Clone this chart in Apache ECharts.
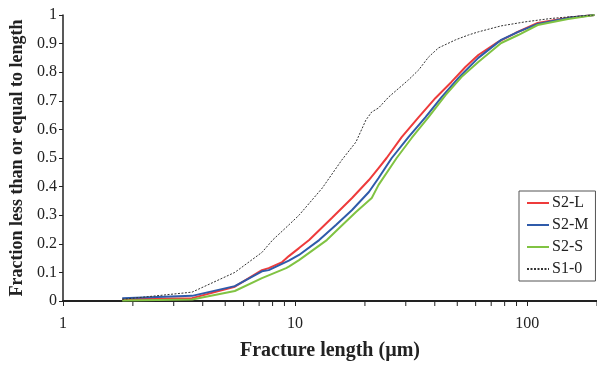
<!DOCTYPE html>
<html>
<head>
<meta charset="utf-8">
<script src="https://cdn.jsdelivr.net/npm/echarts@6/dist/echarts.min.js"></script>
<style>
  html, body {margin: 0; padding: 0; background: #fff;}
  #chart {width: 597px; height: 365px;}
</style>
</head>
<body>
<div id="chart"></div>
<script>
// cumulative fraction vs fracture length (µm)
const s2L = [[1.8, 0.006], [3.6, 0.01], [5.5, 0.05], [7.2, 0.108], [7.7, 0.115], [8.8, 0.136], [9.4, 0.157],
  [10.4, 0.185], [11.5, 0.213], [14.4, 0.29], [17.6, 0.36], [20.8, 0.423], [22.9, 0.465], [24.8, 0.5],
  [28.8, 0.573], [34.1, 0.643], [40.3, 0.71], [47.2, 0.766], [54.2, 0.818], [61.6, 0.86], [75, 0.906],
  [89, 0.937], [111, 0.972], [150, 0.99], [195, 1.0]];
const s2M = [[1.8, 0.01], [3.6, 0.018], [5.5, 0.052], [7.2, 0.104], [7.7, 0.108], [9.4, 0.141], [10.4, 0.161],
  [12.7, 0.213], [15.0, 0.266], [17.6, 0.318], [20.8, 0.381], [22.9, 0.43], [26.1, 0.5], [30.8, 0.573],
  [36.5, 0.643], [42.8, 0.713], [50.6, 0.78], [61.6, 0.85], [77.3, 0.913], [91.5, 0.941], [111, 0.969],
  [150, 0.99], [195, 1.0]];
const s2S = [[1.8, 0.002], [3.6, 0.005], [5.5, 0.035], [7.2, 0.08], [9.15, 0.115], [9.4, 0.12], [10.4, 0.143],
  [13.7, 0.213], [15.5, 0.255], [18.3, 0.311], [21.4, 0.36], [22.9, 0.406], [27.4, 0.5], [31.8, 0.57],
  [37.6, 0.643], [44.5, 0.72], [52.1, 0.783], [61.6, 0.836], [77.3, 0.902], [91.5, 0.93], [111, 0.965],
  [150, 0.986], [195, 1.0]];
const s10 = [[1.8, 0.006], [3.6, 0.031], [5.5, 0.10], [7.2, 0.17], [8.0, 0.213], [9.4, 0.266], [10.4, 0.30],
  [13.1, 0.395], [15.9, 0.493], [18.3, 0.556], [20.2, 0.633], [21.4, 0.661], [22.9, 0.675], [25.3, 0.713],
  [30.8, 0.773], [34.1, 0.808], [37.6, 0.853], [41.5, 0.885], [49.1, 0.913], [55.8, 0.93], [61.6, 0.941],
  [77.3, 0.962], [98, 0.976], [127, 0.988], [150, 0.993], [195, 1.0]];
const minorTicks = [2, 3, 4, 5, 6, 7, 8, 9, 20, 30, 40, 50, 60, 70, 80, 90, 200];

const font = 'Liberation Serif';
const chart = echarts.init(document.getElementById('chart'));

chart.setOption({
  animation: false,
  textStyle: {fontFamily: font},
  grid: {left: 63, right: 0, top: 15, bottom: 64, containLabel: false, outerBoundsMode: 'none'},
  legend: {
    data: ['S2-L', 'S2-M', 'S2-S', 'S1-0'],
    orient: 'vertical',
    left: 519, top: 191,
    padding: [4, 7, 4, 7],
    itemWidth: 22, itemHeight: 14, itemGap: 6,
    itemStyle: {opacity: 0},
    borderColor: '#555', borderWidth: 1,
    textStyle: {fontFamily: font, fontSize: 16, color: '#222', padding: [0, 0, 0, -2]}
  },
  xAxis: {
    type: 'log', logBase: 10, min: 1, max: 200,
    name: 'Fracture length (µm)', nameLocation: 'middle', nameGap: 40,
    nameTextStyle: {fontFamily: font, fontWeight: 'bold', fontSize: 20, color: '#222'},
    axisLine: {lineStyle: {color: '#222', width: 2}},
    axisTick: {show: true, inside: false, length: 5, lineStyle: {color: '#222'}},
    axisLabel: {fontFamily: font, fontSize: 16, color: '#222', margin: 15, showMaxLabel: false},
    splitLine: {show: false}
  },
  yAxis: {
    type: 'value', min: 0, max: 1, interval: 0.1,
    name: 'Fraction less than or equal to length', nameLocation: 'middle', nameGap: 37,
    nameTextStyle: {fontFamily: font, fontWeight: 'bold', fontSize: 18, color: '#222'},
    axisLine: {show: true, lineStyle: {color: '#222', width: 1.5}},
    axisTick: {show: true, inside: false, length: 4, lineStyle: {color: '#222'}},
    axisLabel: {fontFamily: font, fontSize: 16, color: '#222', margin: 6},
    splitLine: {show: false}
  },
  series: [
    {name: 'S2-L', data: s2L, color: '#EE3B3B', lineStyle: {width: 2}},
    {name: 'S2-M', data: s2M, color: '#2F5BAA', lineStyle: {width: 2}},
    {name: 'S2-S', data: s2S, color: '#80C342', lineStyle: {width: 2}},
    {name: 'S1-0', data: s10, color: '#333', lineStyle: {width: 1, type: [2, 1.5]}}
  ].map(s => ({...s, type: 'line', symbol: 'none', z: s.name === 'S1-0' ? 3 : 2}))
   .concat([{
    type: 'custom',
    silent: true,
    data: minorTicks.map(v => [v, 0]),
    renderItem: (params, api) => {
      const p = api.coord([api.value(0), 0]);
      return {
        type: 'line',
        shape: {x1: p[0], y1: p[1] + 1, x2: p[0], y2: p[1] + 5},
        style: {stroke: '#222', lineWidth: 1}
      };
    }
  }])
});
</script>
</body>
</html>
